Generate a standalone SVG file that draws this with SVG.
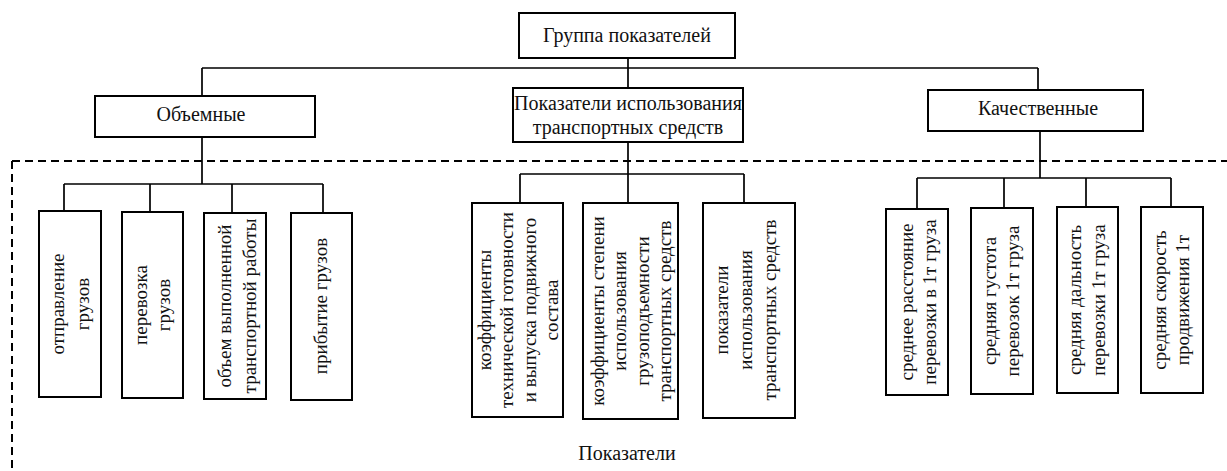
<svg xmlns="http://www.w3.org/2000/svg" width="1227" height="471" viewBox="0 0 1227 471">
<style>
.box{fill:#fff;stroke:#000;stroke-width:2}
.t{font-family:"Liberation Serif","Times New Roman",serif;font-size:20px;fill:#111}
.r{font-size:19px}
.c{text-anchor:middle}
.ln{stroke:#000;stroke-width:1.7;fill:none}
.dash{stroke:#000;stroke-width:2;fill:none;stroke-dasharray:8 5}
</style>
<rect width="1227" height="471" fill="#fff"/>
<g id="connectors">
<path class="ln" d="M628 58V68M202 68H1038M202 68V96M628 68V88M1038 68V90"/>
<path class="ln" d="M202 137V184M64 184H323M64 184V211M150 184V212M232 184V213M323 184V213"/>
<path class="ln" d="M628 142V174M520 174H744M520 174V203M628 174V203M744 174V203"/>
<path class="ln" d="M1040 131V178M917 178H1171M917 178V209M1004 178V208M1086 178V207M1171 178V207"/>
</g>
<g id="frame">
<path class="dash" d="M12 161H1227M12 161V471"/>
</g>
<g id="root"><rect class="box" x="519" y="13" width="216" height="45"/><text class="t c" x="627" y="42">Группа показателей</text></g>
<g id="vol"><rect class="box" x="95" y="96" width="220" height="41"/><text class="t c" x="201" y="121">Объемные</text></g>
<g id="use"><rect class="box" x="513" y="88" width="230" height="54"/><text class="t c" x="628" y="110">Показатели использования</text><text class="t c" x="628" y="134">транспортных средств</text></g>
<g id="qual"><rect class="box" x="928" y="90" width="215" height="41"/><text class="t c" x="1038" y="115">Качественные</text></g>

<g id="v1"><rect class="box" x="39" y="211" width="62" height="186"/><text class="t r c" transform="translate(0,304) rotate(-90)"><tspan x="0" y="64">отправление</tspan><tspan x="0" y="89">грузов</tspan></text></g>
<g id="v2"><rect class="box" x="122" y="212" width="61" height="186"/><text class="t r c" transform="translate(0,305) rotate(-90)"><tspan x="0" y="147">перевозка</tspan><tspan x="0" y="170">грузов</tspan></text></g>
<g id="v3"><rect class="box" x="204" y="213" width="62" height="186"/><text class="t r c" transform="translate(0,306) rotate(-90)"><tspan x="0" y="231">объем выполненной</tspan><tspan x="0" y="256">транспортной работы</tspan></text></g>
<g id="v4"><rect class="box" x="291" y="213" width="61" height="187"/><text class="t r c" transform="translate(0,306) rotate(-90)"><tspan x="0" y="327">прибытие грузов</tspan></text></g>

<g id="u1"><rect class="box" x="472" y="203" width="91" height="214"/><text class="t r c" transform="translate(0,310) rotate(-90)"><tspan x="0" y="491">коэффициенты</tspan><tspan x="0" y="513">технической готовности</tspan><tspan x="0" y="536">и выпуска подвижного</tspan><tspan x="0" y="558">состава</tspan></text></g>
<g id="u2"><rect class="box" x="583" y="203" width="95" height="216"/><text class="t r c" transform="translate(0,311) rotate(-90)"><tspan x="0" y="604">коэффициенты степени</tspan><tspan x="0" y="626">использования</tspan><tspan x="0" y="649">грузоподъемности</tspan><tspan x="0" y="671">транспортных средств</tspan></text></g>
<g id="u3"><rect class="box" x="703" y="203" width="92" height="215"/><text class="t r c" transform="translate(0,310) rotate(-90)"><tspan x="0" y="728">показатели</tspan><tspan x="0" y="752">использования</tspan><tspan x="0" y="776">транспортных средств</tspan></text></g>

<g id="q1"><rect class="box" x="886" y="209" width="62" height="186"/><text class="t r c" transform="translate(0,302) rotate(-90)"><tspan x="0" y="913">среднее расстояние</tspan><tspan x="0" y="936">перевозки в 1т груза</tspan></text></g>
<g id="q2"><rect class="box" x="971" y="208" width="62" height="186"/><text class="t r c" transform="translate(0,301) rotate(-90)"><tspan x="0" y="996">средняя густота</tspan><tspan x="0" y="1019">перевозок 1т груза</tspan></text></g>
<g id="q3"><rect class="box" x="1057" y="207" width="61" height="186"/><text class="t r c" transform="translate(0,300) rotate(-90)"><tspan x="0" y="1081">средняя дальность</tspan><tspan x="0" y="1105">перевозки 1т груза</tspan></text></g>
<g id="q4"><rect class="box" x="1141" y="207" width="62" height="186"/><text class="t r c" transform="translate(0,300) rotate(-90)"><tspan x="0" y="1166">средняя скорость</tspan><tspan x="0" y="1189">продвижения 1т</tspan></text></g>

<text id="caption" class="t c" x="627" y="460">Показатели</text>
</svg>
